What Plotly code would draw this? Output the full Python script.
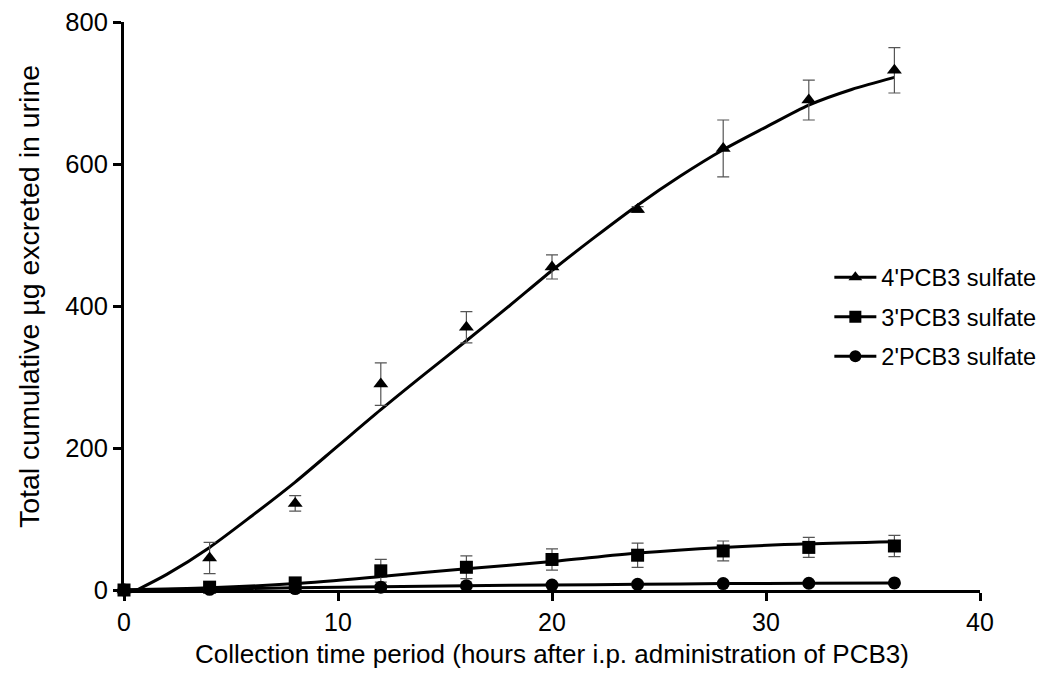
import plotly.graph_objects as go

# measured points (hours, µg) with SD
hours = [0, 4, 8, 12, 16, 20, 24, 28, 32, 36]

pcb4_mean = [0, 45, 122, 290, 370, 455, 536, 622, 690, 732]
pcb4_sd = [0, 22, 11, 30, 22, 17, 4, 40, 28, 32]

pcb3_mean = [0, 4, 10, 27, 32, 43, 49, 55, 60, 62]
pcb3_sd = [0, 2, 3, 16, 16, 15, 17, 14, 14, 15]

pcb2_mean = [0, 1, 2, 4, 6, 7, 8, 9, 9.5, 10]
pcb2_sd = [0, 0.5, 0.5, 1, 1, 1, 1, 1, 1, 1]

# fitted curves
fit4_x = [0.6, 2, 4, 6, 8, 10, 12, 14, 16, 18, 20, 22, 24, 26, 28, 30, 32, 34, 36]
fit4_y = [0, 22, 60, 105, 152, 203, 254, 303, 351, 400, 450, 497, 542, 583, 620, 652, 683, 705, 722]

fit3_x = [0, 4, 8, 12, 16, 20, 24, 28, 32, 36]
fit3_y = [0, 3, 9, 19, 30, 40, 52, 60, 65, 68]

fit2_x = [0, 4, 8, 12, 16, 20, 24, 28, 32, 36]
fit2_y = [0, 1.5, 3, 4.5, 6, 7, 8, 9, 9.5, 10]

names = ["4'PCB3 sulfate", "3'PCB3 sulfate", "2'PCB3 sulfate"]
symbols = ["triangle-up", "square", "circle"]

x_title = "Collection time period (hours after i.p. administration of PCB3)"
y_title = "Total cumulative µg excreted in urine"

fig = go.Figure()

for fx, fy in [(fit4_x, fit4_y), (fit3_x, fit3_y), (fit2_x, fit2_y)]:
    fig.add_trace(go.Scatter(x=fx, y=fy, mode="lines",
                             line=dict(color="black", width=3, shape="spline", smoothing=0.8),
                             showlegend=False, hoverinfo="skip"))

for mean, sd, sym in [(pcb4_mean, pcb4_sd, symbols[0]), (pcb3_mean, pcb3_sd, symbols[1]),
                      (pcb2_mean, pcb2_sd, symbols[2])]:
    fig.add_trace(go.Scatter(x=hours, y=mean, mode="markers",
                             marker=dict(symbol=sym, size=13, color="black"),
                             error_y=dict(type="data", array=sd, color="#555555", thickness=1.2, width=6),
                             showlegend=False, cliponaxis=False))

# legend entries
for i, (name, sym) in enumerate(zip(names, symbols)):
    fig.add_trace(go.Scatter(x=[None], y=[None], mode="lines+markers", name=name,
                             legendgroup=str(i),
                             line=dict(color="black", width=3),
                             marker=dict(symbol=sym, size=12, color="black")))

# page body adds an 8px offset, so margins are shifted by that amount
fig.update_layout(
    width=1050, height=676,
    margin=dict(l=116, r=78, t=14, b=94),
    plot_bgcolor="white", paper_bgcolor="white",
    font=dict(family="Liberation Sans, Arial", color="black"),
    legend=dict(x=0.824, y=0.589, xanchor="left", yanchor="top", font=dict(size=23.5),
                traceorder="grouped", tracegroupgap=6, itemwidth=42, bgcolor="rgba(0,0,0,0)"),
    annotations=[
        dict(text=x_title, xref="paper", yref="paper", x=0.5, y=-0.112, xanchor="center",
             yanchor="middle", showarrow=False, font=dict(size=26)),
        dict(text=y_title, xref="paper", yref="paper", x=-0.111, y=0.5175, xanchor="center",
             yanchor="middle", textangle=-90, showarrow=False, font=dict(size=28.5)),
    ],
)
fig.update_xaxes(range=[0, 40], tickvals=[0, 10, 20, 30, 40], showline=True, linecolor="black",
                 linewidth=3, ticks="outside", ticklen=8, tickwidth=3, tickcolor="black",
                 showgrid=False, zeroline=False, tickfont=dict(size=25), automargin=False,
                 ticklabeloverflow="allow")
fig.update_yaxes(range=[0, 800], tickvals=[0, 200, 400, 600, 800], showline=True, linecolor="black",
                 linewidth=3, ticks="outside", ticklen=8, tickwidth=3, tickcolor="black",
                 showgrid=False, zeroline=False, tickfont=dict(size=25.5), automargin=False,
                 ticklabeloverflow="allow")

fig.write_html("out.html")
